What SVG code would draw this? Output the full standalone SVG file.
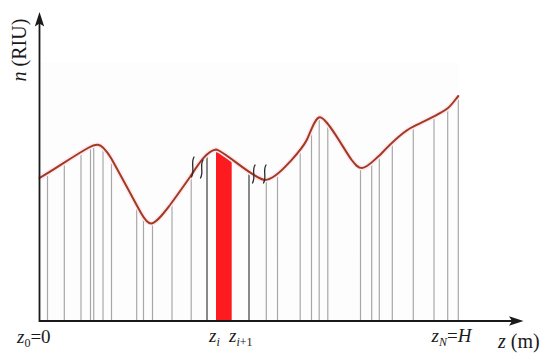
<svg xmlns="http://www.w3.org/2000/svg" xmlns:xlink="http://www.w3.org/1999/xlink" width="550" height="355" viewBox="0 0 550 355">
  <style>
    .grid { stroke: #a8a8a8; stroke-width: 1.2; }
    .gridDark { stroke: #4a4a4a; stroke-width: 1.3; }
    .axis { stroke: #1a1a1a; stroke-width: 1.8; fill: none; }
    .curve { stroke: #a23a1e; stroke-width: 2; fill: none; stroke-linecap: round; stroke-linejoin: round; }
    .halo { stroke: #fce8f2; stroke-width: 5; fill: none; stroke-linejoin: round; }
    .brk { stroke: #2a2a2a; stroke-width: 1.3; fill: none; stroke-linecap: round; }
    .lbl { font-size: 19px; fill: #1a1a1a; }
    .big { font-size: 20px; fill: #1a1a1a; }
    .sub { font-size: 12px; }
    .it { font-style: italic; }
  </style>
  <defs>
    <path id="curvePath" d="M39.5,178 C56,168.5 72,157 88,148 C92,145.8 95,144.5 98,144.8 C102,145.2 106,150 111,158 C117,168.5 135,202 141,213 C145,220 148,223.5 151,223.5 C156,223.5 163,214 170,205 C177,195.5 183,187 190,177 C197,166.5 206,151 216,149.5 C223,150 255,180 265,180 C272,180 283,169.5 290,161.7 C295.5,155.6 302.7,148 306.7,140 C310.7,132 315,117.3 320,117.3 C327,117.3 345.7,152.5 351.7,160 C355.5,165 358,168 362,168 C367,168 373,161 380,155 C388,146.5 404,131 413.3,126.7 C423.3,121.6 441.7,113.3 447.7,108.3 C451.5,105.2 455,100 458.3,96"/>
    <clipPath id="under">
      <path d="M39.5,178 C56,168.5 72,157 88,148 C92,145.8 95,144.5 98,144.8 C102,145.2 106,150 111,158 C117,168.5 135,202 141,213 C145,220 148,223.5 151,223.5 C156,223.5 163,214 170,205 C177,195.5 183,187 190,177 C197,166.5 206,151 216,149.5 C223,150 255,180 265,180 C272,180 283,169.5 290,161.7 C295.5,155.6 302.7,148 306.7,140 C310.7,132 315,117.3 320,117.3 C327,117.3 345.7,152.5 351.7,160 C355.5,165 358,168 362,168 C367,168 373,161 380,155 C388,146.5 404,131 413.3,126.7 C423.3,121.6 441.7,113.3 447.7,108.3 C451.5,105.2 455,100 458.3,96 L460,96 L460,321 L39.5,321 Z"/>
    </clipPath>
  </defs>

  <rect width="550" height="355" fill="#ffffff"/>
  <g id="plot-area">
    <rect x="40" y="63" width="418.5" height="258" fill="#fefdfe"/>
  </g>

  <g id="slices" clip-path="url(#under)">
    <rect id="slice-i" x="216" y="90" width="15.7" height="231" fill="#fd1b1f"/>
    <g id="grid-lines">
      <line class="grid" x1="47.5" y1="90" x2="47.5" y2="321"/>
      <line class="grid" x1="64.3" y1="90" x2="64.3" y2="321"/>
      <line class="grid" x1="81" y1="90" x2="81" y2="321"/>
      <line class="grid" x1="90.5" y1="90" x2="90.5" y2="321"/>
      <line class="grid" x1="93.7" y1="90" x2="93.7" y2="321"/>
      <line class="grid" x1="103" y1="90" x2="103" y2="321"/>
      <line class="grid" x1="111.5" y1="90" x2="111.5" y2="321"/>
      <line class="grid" x1="136.7" y1="90" x2="136.7" y2="321"/>
      <line class="grid" x1="143.5" y1="90" x2="143.5" y2="321"/>
      <line class="grid" x1="152.5" y1="90" x2="152.5" y2="321"/>
      <line class="grid" x1="172" y1="90" x2="172" y2="321"/>
      <line class="grid" x1="191.2" y1="90" x2="191.2" y2="321"/>
      <line class="gridDark" x1="207" y1="90" x2="207" y2="321"/>
      <line class="gridDark" x1="249" y1="90" x2="249" y2="321"/>
      <line class="grid" x1="266.3" y1="90" x2="266.3" y2="321"/>
      <line class="grid" x1="277.5" y1="90" x2="277.5" y2="321"/>
      <line class="grid" x1="300.2" y1="90" x2="300.2" y2="321"/>
      <line class="grid" x1="311.5" y1="90" x2="311.5" y2="321"/>
      <line class="grid" x1="319.2" y1="90" x2="319.2" y2="321"/>
      <line class="grid" x1="327.8" y1="90" x2="327.8" y2="321"/>
      <line class="grid" x1="360.5" y1="90" x2="360.5" y2="321"/>
      <line class="grid" x1="371.7" y1="90" x2="371.7" y2="321"/>
      <line class="grid" x1="379.3" y1="90" x2="379.3" y2="321"/>
      <line class="grid" x1="392.3" y1="90" x2="392.3" y2="321"/>
      <line class="grid" x1="413.3" y1="90" x2="413.3" y2="321"/>
      <line class="grid" x1="434" y1="90" x2="434" y2="321"/>
      <line class="grid" x1="447.7" y1="90" x2="447.7" y2="321"/>
      <line class="grid" x1="458.3" y1="90" x2="458.3" y2="321"/>
    </g>
  </g>

  <g id="curve">
    <use xlink:href="#curvePath" href="#curvePath" class="halo"/>
    <use xlink:href="#curvePath" href="#curvePath" class="curve"/>
  </g>

  <g id="break-marks">
    <path class="brk" d="M194,157 C190.5,163 195,170 191.5,177"/>
    <path class="brk" d="M203,160 C199.5,166 204,172 200.5,178"/>
    <path class="brk" d="M255,165 C251.5,171 256,177 252.5,183"/>
    <path class="brk" d="M266,165 C262.5,171 267,177 263.5,183"/>
  </g>

  <g id="axes">
    <polyline class="axis" points="39.5,22 39.5,321 514,321"/>
    <path d="M39.5,12 L44.2,26.5 L39.5,23.5 L34.8,26.5 Z" fill="#1a1a1a"/>
    <path d="M523.5,321 L509,325.7 L512,321 L509,316.3 Z" fill="#1a1a1a"/>
  </g>

  <g id="labels" font-family="Liberation Serif, Times New Roman, serif">
    <text class="big" font-family="Liberation Serif, serif" transform="translate(25.5,50) rotate(-90)" text-anchor="middle"><tspan class="it">n</tspan> (RIU)</text>
    <text class="lbl" font-family="Liberation Serif, serif" x="17" y="343"><tspan class="it">z</tspan><tspan class="sub" dy="4">0</tspan><tspan dy="-4">=0</tspan></text>
    <text class="lbl" font-family="Liberation Serif, serif" x="209" y="342"><tspan class="it">z</tspan><tspan class="it sub" dy="4">i</tspan></text>
    <text class="lbl" font-family="Liberation Serif, serif" x="229" y="342"><tspan class="it">z</tspan><tspan class="it sub" dy="4">i</tspan><tspan class="sub">+1</tspan></text>
    <text class="lbl" font-family="Liberation Serif, serif" x="431.5" y="342"><tspan class="it">z</tspan><tspan class="it sub" dy="4">N</tspan><tspan dy="-4">=</tspan><tspan class="it">H</tspan></text>
    <text class="big" font-family="Liberation Serif, serif" x="498" y="348"><tspan class="it">z</tspan> (m)</text>
  </g>
</svg>
